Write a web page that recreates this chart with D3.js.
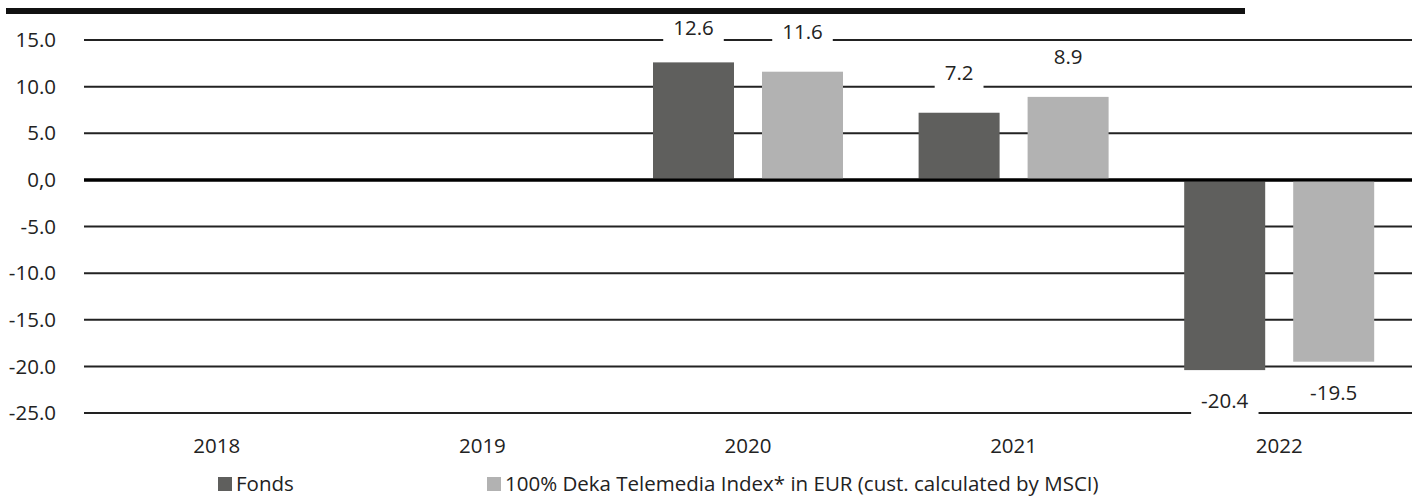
<!DOCTYPE html>
<html lang="de">
<head>
<meta charset="UTF-8">
<title>Wertentwicklung</title>
<script src="https://d3js.org/d3.v7.min.js"></script>
<style>
    body { margin: 0; background: #fff; font-family: "Open Sans", sans-serif; }
    svg text { fill: #222; }
</style>
</head>
<body>
<svg id="chart" width="1421" height="497"></svg>
<script>
// data
const years = ["2018", "2019", "2020", "2021", "2022"];
const fonds = [null, null, 12.6, 7.2, -20.4];
const index = [null, null, 11.6, 8.9, -19.5];
const yTicks = [15, 10, 5, 0, -5, -10, -15, -20, -25];
const seriesNames = ["Fonds", "100% Deka Telemedia Index* in EUR (cust. calculated by MSCI)"];
const colors = ["#5f5f5d", "#b2b2b2"];

const svg = d3.select("#chart");
const fontSize = 20.5;

const x = d3.scaleBand().domain(years).range([84, 1412]).padding(0);
const y = d3.scaleLinear().domain([-25, 15]).range([413, 40]);

// gridlines
svg.append("g").selectAll("line")
    .data(yTicks)
    .join("line")
    .attr("x1", 84).attr("x2", 1412)
    .attr("y1", d => y(d)).attr("y2", d => y(d))
    .attr("stroke", d => d === 0 ? "#000" : "#222")
    .attr("stroke-width", d => d === 0 ? 3 : 2);

// y labels
svg.append("g").selectAll("text")
    .data(yTicks)
    .join("text")
    .attr("x", 56)
    .attr("y", d => y(d))
    .attr("dy", "0.35em")
    .attr("text-anchor", "end")
    .attr("font-size", fontSize)
    .text(d => d === 0 ? "0,0" : d.toFixed(1));

// bars
const barW = 81, gap = 14;
const rows = [];
years.forEach((yr, i) => {
    [fonds[i], index[i]].forEach((v, s) => {
        if (v == null) return;
        rows.push({ yr, v, s });
    });
});

const cx = d => x(d.yr) + x.bandwidth() / 2;
const bx = d => d.s === 0 ? cx(d) - gap - barW : cx(d) + gap;

svg.append("g").selectAll("rect")
    .data(rows)
    .join("rect")
    .attr("x", bx)
    .attr("width", barW)
    .attr("y", d => y(Math.max(0, d.v)))
    .attr("height", d => Math.abs(y(d.v) - y(0)))
    .attr("fill", d => colors[d.s]);

// redraw zero line over bars
svg.append("line")
    .attr("x1", 84).attr("x2", 1412)
    .attr("y1", y(0)).attr("y2", y(0))
    .attr("stroke", "#000").attr("stroke-width", 3);

// value labels with white boxes
const labelY = d => d.v >= 0 ? Math.max(28, y(d.v) - 40) : y(d.v) + 31;
const lbl = svg.append("g").selectAll("g")
    .data(rows)
    .join("g")
    .attr("transform", d => `translate(${bx(d) + barW / 2},${labelY(d)})`);

lbl.append("text")
    .attr("text-anchor", "middle")
    .attr("dy", "0.35em")
    .attr("font-size", fontSize)
    .text(d => d.v.toFixed(1));

lbl.each(function () {
    const g = d3.select(this);
    const bb = g.select("text").node().getBBox();
    g.insert("rect", "text")
        .attr("x", bb.x - 10).attr("y", -14)
        .attr("width", bb.width + 20).attr("height", 31)
        .attr("fill", "#fff");
});

// thick rule at top (drawn last so label boxes don't cut it)
svg.append("rect")
    .attr("x", 6).attr("y", 8).attr("width", 1239).attr("height", 6)
    .attr("fill", "#111");

// x labels
svg.append("g").selectAll("text")
    .data(years)
    .join("text")
    .attr("x", d => x(d) + x.bandwidth() / 2)
    .attr("y", 453)
    .attr("text-anchor", "middle")
    .attr("font-size", fontSize)
    .text(d => d);

// legend
const legendX = [218, 487];
const leg = svg.append("g").selectAll("g")
    .data(seriesNames)
    .join("g")
    .attr("transform", (d, i) => `translate(${legendX[i]},484)`);
leg.append("rect")
    .attr("x", 0).attr("y", -7).attr("width", 14).attr("height", 14)
    .attr("fill", (d, i) => colors[i]);
leg.append("text")
    .attr("x", 18)
    .attr("dy", "0.35em")
    .attr("font-size", fontSize)
    .text(d => d);
</script>
</body>
</html>
